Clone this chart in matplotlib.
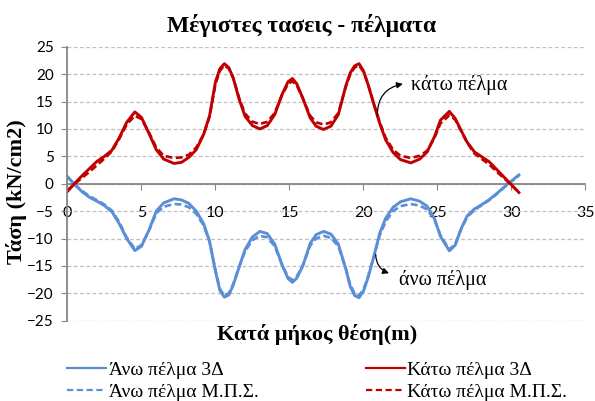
import numpy as np
import matplotlib
matplotlib.use('Agg')
import matplotlib.pyplot as plt
from matplotlib.lines import Line2D

# ---------------- datos ----------------
thesi = [0, 0.5, 1.0, 1.5, 2.0, 2.5, 3.0, 3.5, 4.0, 4.55, 5.0, 5.5, 6.0, 6.5,
         7.2, 7.7, 8.2, 8.7, 9.2, 9.6, 10.0, 10.3, 10.6, 10.9, 11.2, 11.6,
         12.0, 12.5, 13.0, 13.5, 14.0, 14.5, 14.9, 15.2, 15.5, 15.9, 16.4,
         16.8, 17.3, 17.8, 18.3, 18.8, 19.1, 19.4, 19.7, 20.0, 20.3, 20.7,
         21.1, 21.5, 22.0, 22.5, 23.2, 23.8, 24.3, 24.8, 25.2, 25.8, 26.2,
         26.6, 27.0, 27.5, 28.0, 28.5, 29.0, 29.5, 30.0, 30.5]

kato_3d = [-1.4, 0.1, 1.5, 2.8, 4.1, 5.0, 6.1, 8.4, 11.2, 13.1, 12.1, 9.2, 6.2, 4.5,
           3.7, 3.9, 4.8, 6.2, 9.0, 12.4, 18.6, 21.0, 21.9, 21.2, 19.3, 15.4,
           12.3, 10.6, 10.0, 10.6, 12.6, 16.3, 18.6, 19.2, 18.2, 15.6, 12.0,
           10.5, 9.9, 10.5, 12.6, 17.8, 20.2, 21.5, 21.9, 20.6, 18.2, 14.5,
           11.0, 8.0, 5.7, 4.4, 3.8, 4.5, 5.8, 8.6, 11.6, 13.2, 11.9,
           9.7, 7.6, 5.8, 4.9, 4.0, 2.6, 1.2, -0.2, -1.6]

kato_mps = [-1.2, 0.0, 1.1, 2.2, 3.4, 4.6, 5.9, 8.2, 10.8, 12.4, 11.8, 9.4, 6.6, 5.1,
            4.7, 4.8, 5.3, 6.6, 9.0, 12.2, 18.2, 20.6, 21.6, 21.0, 19.3, 15.6,
            12.8, 11.3, 10.9, 11.3, 12.9, 16.2, 18.2, 18.7, 17.9, 15.6, 12.4,
            11.2, 10.8, 11.2, 12.9, 17.6, 19.9, 21.2, 21.6, 20.4, 18.2, 14.6,
            11.2, 8.4, 6.2, 5.1, 4.7, 5.1, 6.0, 8.4, 11.0, 12.5, 11.7,
            9.6, 7.5, 5.5, 4.5, 3.5, 2.2, 1.0, -0.3, -1.5]

ano_3d = [1.3, -0.2, -1.5, -2.5, -3.2, -4.0, -5.1, -7.3, -10.0, -12.2, -11.4, -8.5, -5.0, -3.5,
          -2.75, -2.95, -3.6, -5.0, -7.3, -10.5, -16.0, -19.5, -20.7, -20.3, -18.5, -15.2,
          -12.0, -9.7, -8.7, -9.1, -11.0, -14.8, -17.3, -18.0, -17.2, -15.0, -10.9,
          -9.3, -8.7, -9.2, -11.0, -15.5, -18.7, -20.4, -20.8, -19.6, -17.2, -13.3,
          -9.0, -6.3, -4.3, -3.3, -2.75, -3.2, -4.1, -6.4, -9.6, -12.25, -11.2,
          -8.2, -5.9, -4.6, -3.8, -2.9, -1.8, -0.6, 0.5, 1.6]

ano_mps = [1.2, -0.2, -1.3, -2.3, -3.0, -3.8, -4.9, -7.0, -9.8, -11.9, -11.2, -8.6, -5.4, -4.2,
           -3.7, -3.8, -4.3, -5.5, -7.6, -10.6, -15.8, -19.2, -20.4, -20.0, -18.3, -15.2,
           -12.3, -10.3, -9.5, -9.8, -11.4, -14.8, -17.0, -17.6, -16.9, -14.9, -11.3,
           -10.0, -9.5, -9.9, -11.4, -15.4, -18.4, -20.0, -20.4, -19.3, -17.0, -13.3,
           -9.4, -6.9, -5.0, -4.1, -3.7, -4.0, -4.7, -6.6, -9.4, -12.0, -11.0,
           -8.3, -6.1, -4.8, -3.9, -3.0, -1.9, -0.7, 0.4, 1.5]

etiquetas = ['Άνω πέλμα 3Δ', 'Άνω πέλμα Μ.Π.Σ.', 'Κάτω πέλμα 3Δ', 'Κάτω πέλμα Μ.Π.Σ.']
xticks = [0, 5, 10, 15, 20, 25, 30, 35]
yticks = [-25, -20, -15, -10, -5, 0, 5, 10, 15, 20, 25]

azul = '#5A8FD6'
rojo = '#C00000'
gris = '#868686'
serif = 'Liberation Serif'
guiones = (2.6, 1.3)

# ---------------- figura ----------------
fig = plt.figure(figsize=(5.95, 4.01), dpi=100)
ax = fig.add_axes([0.1134, 0.2002, 0.8706, 0.6833])

ax.plot(thesi, ano_3d, color=azul, lw=2.1)
ax.plot(thesi, ano_mps, color=azul, lw=1.9, dashes=guiones)
ax.plot(thesi, kato_3d, color=rojo, lw=2.1)
ax.plot(thesi, kato_mps, color=rojo, lw=1.9, dashes=guiones)

ax.set_xlim(0, 35)
ax.set_ylim(-25, 25)
ax.set_xticks(xticks)
ax.set_yticks(yticks)
ax.yaxis.grid(True, color='#BFBFBF', lw=0.9, linestyle=(0, (3, 2)))
ax.set_axisbelow(True)

for s in ['top', 'right']:
    ax.spines[s].set_visible(False)
ax.spines['bottom'].set_position(('data', 0))
ax.spines['bottom'].set_color(gris)
ax.spines['left'].set_color(gris)
ax.spines['bottom'].set_linewidth(1.3)
ax.spines['left'].set_linewidth(1.3)
ax.spines['bottom'].set_zorder(1)

ax.tick_params(axis='x', direction='out', length=4, color=gris, pad=12,
               labelsize=11.5)
ax.tick_params(axis='y', direction='out', length=4, color=gris, pad=6,
               labelsize=11)
for t in ax.get_xticklabels() + ax.get_yticklabels():
    t.set_family('Lato')

# titulos
fig.text(0.507, 0.921, 'Μέγιστες τασεις - πέλματα', ha='center', va='baseline',
         family=serif, fontweight='bold', fontsize=17)
fig.text(0.533, 0.165, 'Κατά μήκος θέση(m)', ha='center', va='center',
         family=serif, fontweight='bold', fontsize=16)
fig.text(0.027, 0.522, 'Τάση (kN/cm2)', ha='center', va='center', rotation=90,
         family=serif, fontweight='bold', fontsize=16)

# anotaciones
ax.annotate('', xy=(22.85, 18.3), xytext=(20.94, 12.0),
            arrowprops=dict(arrowstyle='-|>', color='black', lw=0.9,
                            connectionstyle='arc3,rad=-0.45', mutation_scale=9))
ax.text(23.2, 18.1, 'κάτω πέλμα', ha='left', va='center', family=serif, fontsize=14.5)
ax.annotate('', xy=(21.9, -16.5), xytext=(20.83, -12.4),
            arrowprops=dict(arrowstyle='-|>', color='black', lw=0.9,
                            connectionstyle='arc3,rad=0.4', mutation_scale=9))
ax.text(22.4, -17.5, 'άνω πέλμα', ha='left', va='center', family=serif, fontsize=14.5)

# leyenda
manijas = [Line2D([], [], color=azul, lw=1.6),
           Line2D([], [], color=azul, lw=1.6, dashes=(2.8, 1.6)),
           Line2D([], [], color=rojo, lw=1.6),
           Line2D([], [], color=rojo, lw=1.6, dashes=(2.8, 1.6))]
fig.legend(handles=manijas, labels=etiquetas, loc='upper left', bbox_to_anchor=(0.09, 0.132),
           ncol=2, frameon=False, prop={'family': serif, 'size': 14},
           handlelength=2.0, handletextpad=0.15, columnspacing=5.5,
           labelspacing=0.2, borderpad=0.2)

fig.savefig('out.png', dpi=100)
